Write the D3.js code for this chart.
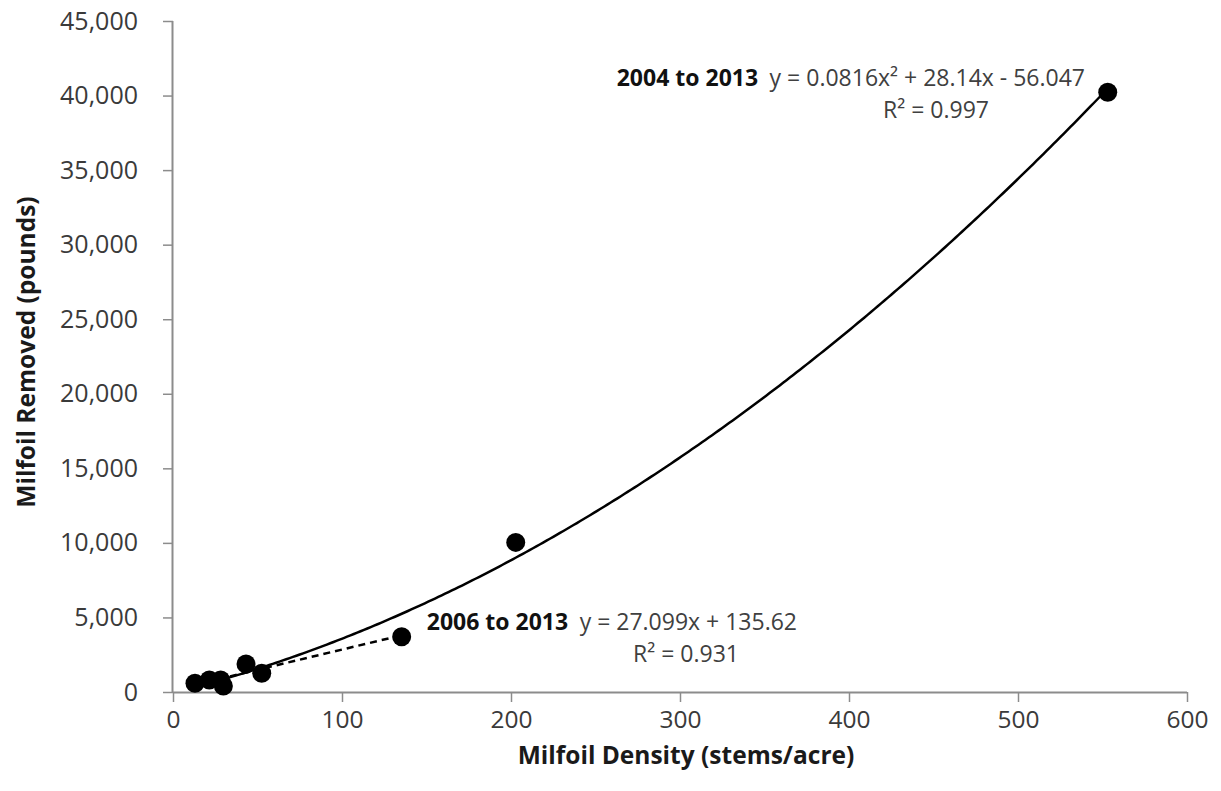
<!DOCTYPE html>
<html><head><meta charset="utf-8">
<script src="https://cdn.jsdelivr.net/npm/d3@7"></script>
<style>
body{margin:0;background:#fff;}
text{font-family:"Open Sans",sans-serif;}
</style></head>
<body>
<svg id="chart" width="1221" height="791"></svg>
<script>
// Data
const densities = [13, 21.5, 28.2, 29.8, 43.2, 52.5, 135.3, 202.8, 553.1];
const removed   = [583, 804, 804, 402, 1877, 1253, 3706, 10033, 40225];
const xTicks = [0, 100, 200, 300, 400, 500, 600];
const yTicks = [0, 5000, 10000, 15000, 20000, 25000, 30000, 35000, 40000, 45000];
// Trendline coefficients (from chart labels)
const quadCoef = [0.0816, 28.14, -56.047];   // 2004 to 2013
const linCoef  = [27.099, 135.62];           // 2006 to 2013
const quadRange = [13, 553.1];
const linRange  = [13, 135.3];

const svg = d3.select("#chart");
const x = d3.scaleLinear().domain([0, 600]).range([173, 1187]);
const y = d3.scaleLinear().domain([0, 45000]).range([692, 21]);

const fmt = d3.format(",");
const axisColor = "#8c8c8c";

// Y axis
const gy = svg.append("g").attr("transform", `translate(${x(0)},0)`)
  .call(d3.axisLeft(y).tickValues(yTicks).tickFormat(fmt).tickSize(10).tickPadding(25));
// X axis
const gx = svg.append("g").attr("transform", `translate(0,${y(0)})`)
  .call(d3.axisBottom(x).tickValues(xTicks).tickFormat(d3.format("d")).tickSize(10).tickPadding(9));
[gx, gy].forEach(g => {
  g.select(".domain").attr("stroke", axisColor).attr("stroke-width", 2);
  g.selectAll(".tick line").attr("stroke", axisColor).attr("stroke-width", 1.5);
  g.selectAll(".tick text").attr("fill", "#3a3a3a").style("font-size", "25px")
    .style("font-family", "'Open Sans',sans-serif");
});
gx.selectAll(".tick text").style("font-size", "24.5px");
gx.select(".domain").attr("d", `M${x(0)},0.5H${x(600)}`);
gy.select(".domain").attr("d", `M-0.5,${y(0)}V${y(45000)}`);

// Axis titles
svg.append("text").attr("x", 686).attr("y", 764).attr("text-anchor", "middle")
  .style("font-size", "24.5px").style("font-weight", "bold").attr("fill", "#1a1a1a")
  .text("Milfoil Density (stems/acre)");
svg.append("text").attr("transform", "translate(35,352) rotate(-90)").attr("text-anchor", "middle")
  .style("font-size", "24.5px").style("font-weight", "bold").attr("fill", "#1a1a1a")
  .text("Milfoil Removed (pounds)");

// Trendlines
const qf = v => quadCoef[0]*v*v + quadCoef[1]*v + quadCoef[2];
const lf = v => linCoef[0]*v + linCoef[1];
const line = d3.line().x(d => x(d[0])).y(d => y(d[1]));
const qPts = d3.range(quadRange[0], quadRange[1], 2).concat([quadRange[1]]).map(v => [v, qf(v)]);
svg.append("path").attr("d", line(qPts)).attr("fill", "none").attr("stroke", "#000").attr("stroke-width", 2.5);
svg.append("path").attr("d", line(linRange.map(v => [v, lf(v)]))).attr("fill", "none")
  .attr("stroke", "#000").attr("stroke-width", 2.5).attr("stroke-dasharray", "7,5");

// Points
svg.selectAll("circle.pt").data(densities.map((d, i) => [d, removed[i]])).enter()
  .append("circle").attr("class", "pt")
  .attr("cx", d => x(d[0])).attr("cy", d => y(d[1])).attr("r", 9.5).attr("fill", "#000");

// Annotations
function annot(xEnd, yBase, bold, eq, r2, r2x) {
  const t = svg.append("text").attr("x", xEnd).attr("y", yBase).attr("text-anchor", "end")
    .style("font-size", "23px");
  t.append("tspan").style("font-weight", "bold").attr("fill", "#111").text(bold);
  t.append("tspan").attr("fill", "#404040").text("\u2002" + eq);
  svg.append("text").attr("x", r2x).attr("y", yBase + 32).attr("text-anchor", "middle")
    .style("font-size", "23px").attr("fill", "#404040").text(r2);
}
annot(1085, 86, "2004 to 2013", "y = 0.0816x\u00B2 + 28.14x - 56.047", "R\u00B2 = 0.997", 936);
annot(797, 630, "2006 to 2013", "y = 27.099x + 135.62", "R\u00B2 = 0.931", 686);
</script>
</body></html>
